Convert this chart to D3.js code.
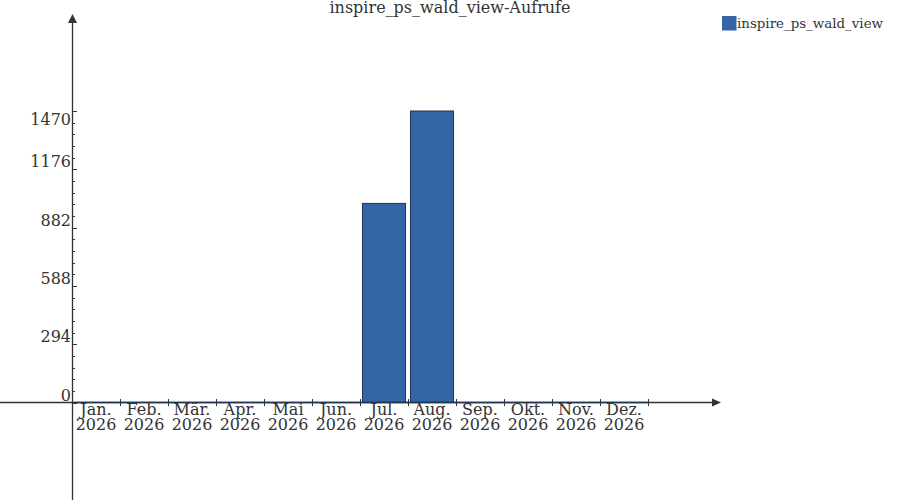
<!DOCTYPE html>
<html><head><meta charset="utf-8">
<script src="https://cdn.jsdelivr.net/npm/d3@7/dist/d3.min.js"></script>
<style>body{margin:0;background:#fff;}svg{display:block;font-family:"DejaVu Serif",serif;}</style>
</head><body><svg id="c" width="900" height="500"></svg>
<script>
const title = "inspire_ps_wald_view-Aufrufe";
const seriesName = "inspire_ps_wald_view";
const months = ["Jan.","Feb.","Mär.","Apr.","Mai","Jun.","Jul.","Aug.","Sep.","Okt.","Nov.","Dez."];
const yearLabel = "2026";
const values = [0,0,0,0,0,0,1004,1470,0,0,0,0];
const yTicks = [0,294,588,882,1176,1470];

const svg = d3.select("#c");
const axisColor = "#333333";
const fill = "#3465a4", stroke = "#1f3553";

const x = d3.scaleBand().domain(months).range([72, 648]).paddingInner(0).paddingOuter(0);
const y = d3.scaleLinear().domain([0, 1470]).range([402.5, 111]);

// title
svg.append("text").attr("x", 450).attr("y", 13).attr("text-anchor", "middle")
  .attr("font-size", 16).attr("fill", axisColor).text(title);

// bars
svg.append("g").selectAll("rect").data(values.map((v,i)=>({m:months[i],v})).filter(d=>d.v>0)).join("rect")
  .attr("x", d => x(d.m) + 2.5)
  .attr("width", x.bandwidth() - 5)
  .attr("y", d => y(d.v))
  .attr("height", d => y(0) - y(d.v))
  .attr("fill", fill).attr("stroke", stroke).attr("stroke-width", 1);

// x axis line
svg.append("line").attr("x1", 0).attr("x2", 713).attr("y1", 402.5).attr("y2", 402.5)
  .attr("stroke", axisColor).attr("stroke-width", 1.3);
svg.append("line").attr("x1", x.range()[0]).attr("x2", x.range()[1]).attr("y1", 402.5).attr("y2", 402.5)
  .attr("stroke", stroke).attr("stroke-width", 1.3);
svg.append("path").attr("d", "M712,398.5 L721,402.5 L712,406.5 Z").attr("fill", axisColor);

// x ticks
svg.append("g").selectAll("line").data(months).join("line")
  .attr("x1", d => x(d) + x.bandwidth() + 0.5).attr("x2", d => x(d) + x.bandwidth() + 0.5)
  .attr("y1", 399).attr("y2", 406).attr("stroke", axisColor).attr("stroke-width", 1);

// x labels
const xl = svg.append("g").attr("font-size", 16).attr("fill", axisColor).attr("text-anchor", "middle");
xl.selectAll("text.m").data(months).join("text").attr("class","m")
  .attr("x", d => x(d) + x.bandwidth()/2).attr("y", 415).text(d => d);
xl.selectAll("text.yr").data(months).join("text").attr("class","yr")
  .attr("x", d => x(d) + x.bandwidth()/2).attr("y", 429.5).text(yearLabel);

// y axis line
svg.append("line").attr("x1", 72.5).attr("x2", 72.5).attr("y1", 22).attr("y2", 500)
  .attr("stroke", axisColor).attr("stroke-width", 1.3);
svg.append("path").attr("d", "M68,23 L72.5,14 L77,23 Z").attr("fill", axisColor);

// y ticks (major + minor)
const minor = [];
for (let i = 0; i < yTicks.length - 1; i++) {
  const step = (yTicks[i+1] - yTicks[i]) / 5;
  for (let k = 1; k < 5; k++) minor.push(yTicks[i] + k*step);
}
svg.append("g").selectAll("line").data(minor).join("line")
  .attr("x1", 72.5).attr("x2", 75).attr("y1", d => Math.round(y(d))+0.5).attr("y2", d => Math.round(y(d))+0.5)
  .attr("stroke", axisColor).attr("stroke-width", 1);
svg.append("g").selectAll("line").data(yTicks).join("line")
  .attr("x1", 72.5).attr("x2", 77).attr("y1", d => Math.round(y(d))+0.5).attr("y2", d => Math.round(y(d))+0.5)
  .attr("stroke", axisColor).attr("stroke-width", 1);
svg.append("g").attr("font-size", 16).attr("fill", axisColor).attr("text-anchor", "end")
  .selectAll("text").data(yTicks).join("text")
  .attr("x", 71).attr("y", (d,i) => i === yTicks.length - 1 ? y(d) + 14 : y(d) - 2)
  .text(d => d);

// legend
svg.append("rect").attr("x", 722).attr("y", 16).attr("width", 14.5).attr("height", 14.5).attr("fill", fill);
svg.append("text").attr("x", 737).attr("y", 28).attr("font-size", 13.4).attr("fill", axisColor).text(seriesName);
</script></body></html>
